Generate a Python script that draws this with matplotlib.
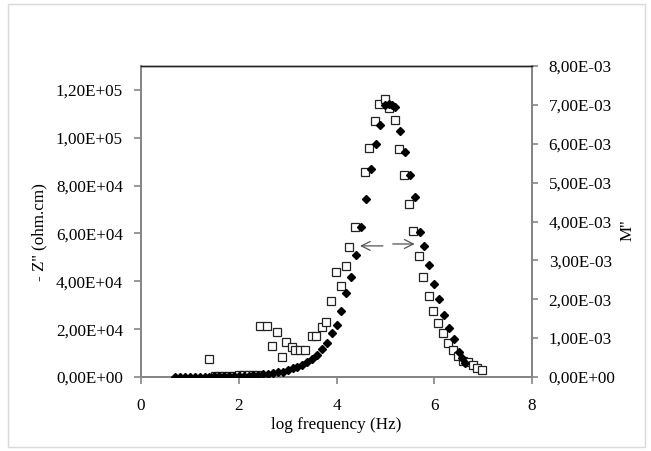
import matplotlib
matplotlib.use("Agg")
import matplotlib.pyplot as plt
from matplotlib.ticker import FuncFormatter, MultipleLocator
from matplotlib.patches import Rectangle

# -Z'' (open squares, left axis)
z_logf = [1.39, 1.51, 1.60, 1.70, 1.80, 1.90, 2.00, 2.10, 2.20, 2.30, 2.40,
          2.43, 2.58, 2.68, 2.78, 2.88, 2.97, 3.09, 3.15, 3.25, 3.35, 3.50, 3.58,
          3.70, 3.78, 3.89, 3.99, 4.09, 4.19, 4.25, 4.38, 4.58, 4.66, 4.79, 4.87,
          4.99, 5.07, 5.19, 5.28, 5.38, 5.48, 5.56, 5.69, 5.77, 5.89, 5.97, 6.07,
          6.18, 6.28, 6.38, 6.48, 6.58, 6.69, 6.79, 6.87, 6.97]
z_vals = [7530, 400, 500, 450, 600, 500, 700, 650, 800, 750, 900,
          21340, 21340, 12970, 18830, 8370, 14640, 12550, 11300, 11300, 11300, 17150, 17150,
          20920, 23010, 31800, 43930, 38070, 46440, 54390, 62760, 85770, 95810, 107110, 114220,
          116320, 112550, 107530, 95400, 84520, 72380, 61090, 50630, 41840, 33890, 27610, 22590,
          18410, 14230, 11300, 8790, 6690, 6280, 5020, 3770, 2930]

# M'' (filled diamonds, right axis)
m_logf = [0.70, 0.80, 0.90, 1.00, 1.10, 1.20, 1.30, 1.40, 1.50, 1.60, 1.70, 1.80, 1.90,
          2.00, 2.10, 2.20, 2.30, 2.40, 2.50, 2.60, 2.70, 2.80, 2.90, 3.00, 3.10, 3.20,
          3.30, 3.40, 3.50, 3.60, 3.70, 3.80, 3.90, 4.00, 4.10, 4.20, 4.30, 4.40, 4.50,
          4.60, 4.70, 4.80, 4.90, 5.00, 5.07, 5.13, 5.20, 5.30, 5.40, 5.50, 5.60, 5.70,
          5.80, 5.90, 6.00, 6.10, 6.20, 6.30, 6.40, 6.50, 6.57, 6.62]
m_vals = [0.000005, 0.000005, 0.000006, 0.000007, 0.000008, 0.000009, 0.00001, 0.000012,
          0.000014, 0.000016, 0.000018, 0.00002, 0.000022,
          0.000025, 0.00003, 0.000035, 0.00004, 0.00005, 0.00007, 0.00009, 0.000115, 0.00013,
          0.00013, 0.00018, 0.00023, 0.00026,
          0.00032, 0.00038, 0.00046, 0.00056, 0.00072, 0.00087, 0.00113, 0.00133, 0.00169,
          0.00215, 0.00256, 0.00313, 0.00385,
          0.00459, 0.00536, 0.0060, 0.00649, 0.0070, 0.00703, 0.0070, 0.00695, 0.00633,
          0.00579, 0.0052, 0.00462, 0.00374,
          0.00336, 0.00287, 0.00238, 0.0020, 0.00159, 0.00126, 0.00097, 0.00064, 0.00049, 0.00036]

x_ticks = [0, 2, 4, 6, 8]
xlabel = "log frequency (Hz)"
ylabel_left = "- Z'' (ohm.cm)"
ylabel_right = "M''"

plt.rcParams['font.family'] = ['Liberation Serif', 'DejaVu Serif']
FS = 12.3

W, H = 651, 451
fig = plt.figure(figsize=(W / 100, H / 100), dpi=100)
L, R, B, T = 141, 532, 377, 66
ax = fig.add_axes([L / W, (H - B) / H, (R - L) / W, (B - T) / H])
ax2 = ax.twinx()

fig.add_artist(Rectangle((8 / W, 4 / H), (645 - 8) / W, (447 - 4) / H,
                         transform=fig.transFigure, fill=False,
                         edgecolor='#d9d9d9', linewidth=1.0))

ax.plot(z_logf, z_vals, linestyle='none', marker='s', markersize=5.8,
        markerfacecolor='white', markeredgecolor='#222222', markeredgewidth=0.9, zorder=3)
ax2.plot(m_logf, m_vals, linestyle='none', marker='D', markersize=3.9,
         markerfacecolor='black', markeredgecolor='black', zorder=4)

ax.set_xlim(0, 8)
ax.set_ylim(0, 1.3e5)
ax2.set_ylim(0, 8e-3)
ax.set_xticks(x_ticks)
ax.yaxis.set_major_locator(MultipleLocator(2e4))
ax2.yaxis.set_major_locator(MultipleLocator(1e-3))

fmt = FuncFormatter(lambda v, p: f"{v:.2E}".replace('.', ','))
ax.yaxis.set_major_formatter(fmt)
ax2.yaxis.set_major_formatter(fmt)

gray = '#868686'
for a in (ax, ax2):
    for s in ('left', 'right', 'bottom'):
        a.spines[s].set_color(gray)
        a.spines[s].set_linewidth(1.4)
    a.spines['top'].set_color('#222222')
    a.spines['top'].set_linewidth(1.0)

ax.tick_params(axis='x', direction='out', length=5, width=1.2, color=gray,
               labelsize=FS, pad=10, labelcolor='black')
ax.tick_params(axis='y', direction='out', length=5, width=1.2, color=gray,
               labelsize=FS, pad=8, labelcolor='black')
ax2.tick_params(axis='y', direction='out', length=4, width=1.2, color=gray,
                labelsize=FS, pad=8, labelcolor='black')

ax.set_xlabel(xlabel, fontsize=FS)
ax.xaxis.set_label_coords(0.5, -(417 - B) / (B - T))
ax.set_ylabel(ylabel_left, fontsize=FS)
ax.yaxis.set_label_coords((47 - L) / (R - L), (B - 232) / (B - T))
ax2.set_ylabel(ylabel_right, fontsize=FS, rotation=90)
ax2.yaxis.set_label_coords((620 - L) / (R - L), (B - 230) / (B - T))

arrow_kw = dict(arrowstyle='->', color='#555555', lw=0.9, mutation_scale=16,
                shrinkA=0, shrinkB=0)
ax.annotate('', xy=(4.48, 54800), xytext=(4.95, 54800), arrowprops=arrow_kw)
ax.annotate('', xy=(5.60, 55600), xytext=(5.15, 55600), arrowprops=arrow_kw)

fig.savefig('out.png', dpi=100, facecolor='white')
